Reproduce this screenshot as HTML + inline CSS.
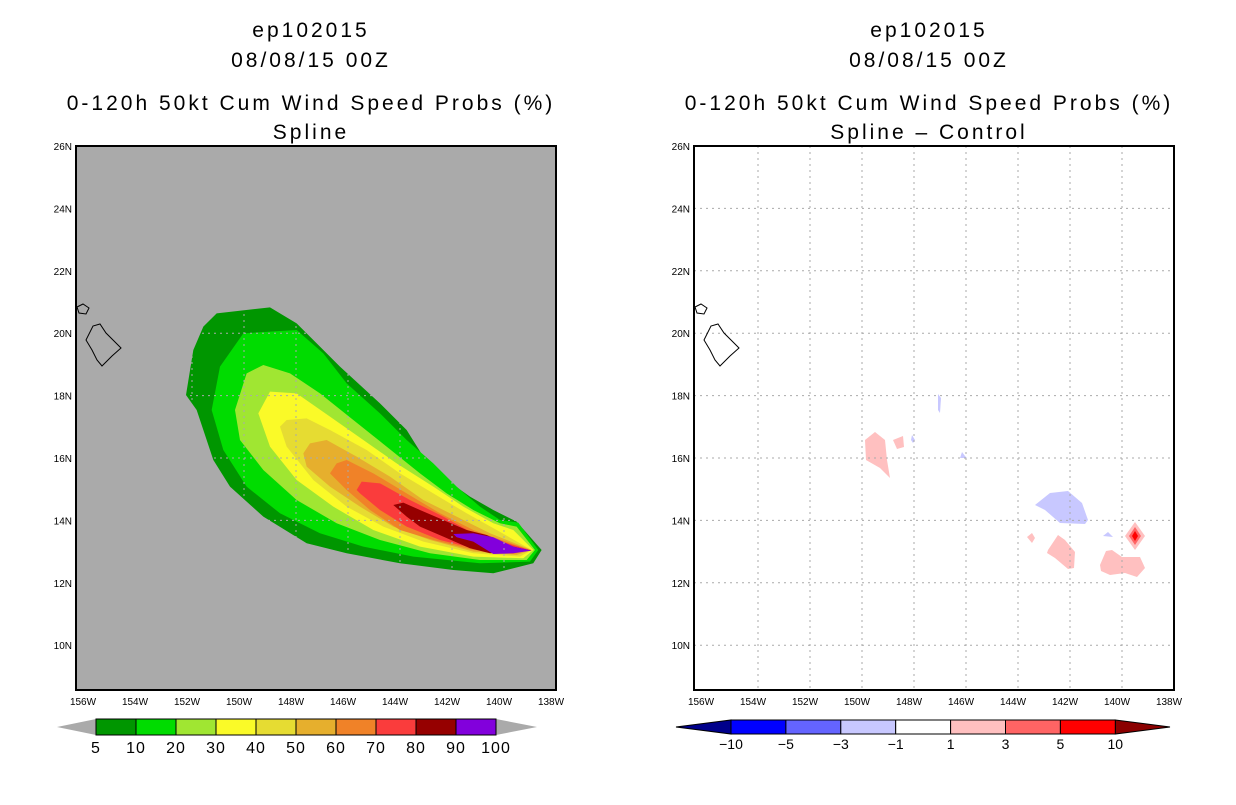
<!DOCTYPE html>
<html><head><meta charset="utf-8"><style>
body{margin:0;background:#fff;width:1236px;height:800px;overflow:hidden}
svg text{font-family:"Liberation Sans",sans-serif}
</style></head><body>
<svg width="1236" height="800" viewBox="0 0 1236 800">
<g font-size="21" letter-spacing="3" text-anchor="middle" fill="#000">
<text x="311" y="37">ep102015</text>
<text x="311" y="67">08/08/15 00Z</text>
<text x="311" y="110">0-120h 50kt Cum Wind Speed Probs (%)</text>
<text x="311" y="139">Spline</text>
</g>
<g font-size="21" letter-spacing="3" text-anchor="middle" fill="#000">
<text x="929" y="37">ep102015</text>
<text x="929" y="67">08/08/15 00Z</text>
<text x="929" y="110">0-120h 50kt Cum Wind Speed Probs (%)</text>
<text x="929" y="139">Spline – Control</text>
</g>
<rect x="76" y="146" width="480" height="544" fill="#aaaaaa"/>
<rect x="694" y="146" width="480" height="544" fill="#fff"/>
<g id="lc" transform="translate(180,300) scale(0.3333)"></g>
<g id="rc"></g>
<g id="grid"></g>
<g id="coast" fill="none" stroke="#000" stroke-width="1"></g>
<rect x="76" y="146" width="480" height="544" fill="none" stroke="#000" stroke-width="2"/>
<rect x="694" y="146" width="480" height="544" fill="none" stroke="#000" stroke-width="2"/>
<g id="axes" font-size="10" fill="#000"></g>
<g id="cb"></g>
</svg>
<script>
const NS="http://www.w3.org/2000/svg";
function mk(tag,attrs,parent){const e=document.createElementNS(NS,tag);for(const k in attrs)e.setAttribute(k,attrs[k]);parent.appendChild(e);return e;}
const lonTicks=[156,154,152,150,148,146,144,142,140,138];
const latTicks=[26,24,22,20,18,16,14,12,10];
const probLevels=["5","10","20","30","40","50","60","70","80","90","100"];
const probColors=["#009600","#00dc00","#a0e632","#fafa28","#e6dc32","#e6af2d","#f08228","#fa3c3c","#960000","#8200dc"];
const diffLevels=["-10","-5","-3","-1","1","3","5","10"];
const diffColors=["#0000ff","#6464ff","#c8c8ff","#ffffff","#ffc0c0","#ff6464","#ff0000"];
function xs(lon,off){return off+556-(lon-138)*26;}
function ys(lat){return 146+(26-lat)*31.2;}
const polys=[
"110,40 270,22 350,70 420,140 480,200 600,310 680,390 730,470 800,540 870,590 940,630 1010,665 1085,750 1060,790 940,820 820,810 660,790 500,760 380,730 250,650 150,560 100,480 50,330 18,285 40,150 70,80",
"190,100 350,90 430,160 500,250 600,340 680,420 760,490 830,560 900,620 960,660 1015,668 1075,750 1050,785 900,790 700,770 550,740 420,700 300,640 200,560 130,450 95,330 120,200",
"200,220 250,195 330,220 420,280 520,360 620,440 720,520 800,580 880,630 960,670 1010,680 1065,750 1040,780 900,780 750,760 600,720 470,670 350,600 250,510 180,420 165,330",
"270,275 350,280 450,350 550,420 650,490 760,560 850,620 940,670 1000,690 1060,750 1030,775 880,770 720,740 580,690 460,620 350,540 270,440 235,340",
"320,360 380,355 450,390 560,450 660,520 760,580 860,640 950,690 1055,750 1020,770 880,760 730,725 610,680 500,620 400,540 320,440 300,380",
"390,430 440,420 530,470 630,530 730,600 830,650 930,700 1055,750 1010,765 880,755 750,720 640,680 540,620 450,560 380,500 370,460",
"470,490 500,480 580,520 680,580 780,640 880,690 1050,750 1000,762 880,750 760,720 660,690 570,630 500,570 450,520",
"545,545 600,550 690,600 790,650 880,700 1050,750 990,760 880,745 780,720 680,680 600,630 540,580 530,570",
"640,615 670,608 720,630 790,660 860,690 920,705 1000,740 1055,752 1000,755 930,760 870,745 790,710 720,680 680,650",
"820,702 880,700 940,712 1000,740 1055,752 1000,760 940,762 880,725 830,712"];
const lc=document.getElementById('lc');
polys.forEach((p,i)=>{const e=mk('polygon',{points:p,fill:probColors[i]},lc);

});
const rc=document.getElementById('rc');
const rpolys=[
["1035,505 1050,493 1068,491 1082,503 1088,520 1085,524 1060,523 1045,510","#c8c8ff"],
["1103,536 1108,532 1113,537","#c8c8ff"],
["938,394 941,398 940,413 938,410","#c8c8ff"],
["912,435 915,440 913,443 911,440","#c8c8ff"],
["962,452 965,456 967,458 960,458","#c8c8ff"],
["1027,537 1032,533 1035,538 1032,543","#ffc0c0"],
["1048,550 1058,535 1065,540 1075,552 1074,568 1068,569 1055,558 1047,553","#ffc0c0"],
["1100,565 1106,551 1112,550 1122,557 1140,557 1145,568 1137,577 1125,573 1110,575 1101,571","#ffc0c0"],
["865,440 875,432 885,440 887,460 890,478 880,468 866,460","#ffc0c0"],
["893,440 903,436 904,447 897,449","#ffc0c0"],
["1125,536 1135,522 1145,536 1135,550","#ffc0c0"],
["1129,536 1135,527 1141,536 1135,545","#ff6464"],
["1132,536 1135,531 1138,536 1135,541","#ff0000"]];
rpolys.forEach((p,i)=>{const e=mk('polygon',{points:p[0],fill:p[1]},rc);

});
const grid=document.getElementById('grid');
[0,618].forEach(off=>{
 const col="#aaaaaa";
 lonTicks.slice(1,-1).forEach(l=>{const e=mk('line',{x1:xs(l,off),x2:xs(l,off),y1:146,y2:690,stroke:col,'stroke-dasharray':'2,4'},grid);
 });
 latTicks.slice(1).forEach(l=>{const e=mk('line',{x1:76+off,x2:556+off,y1:ys(l),y2:ys(l),stroke:col,'stroke-dasharray':'2,4'},grid);
 });
});
const coast=document.getElementById('coast');
[0,618].forEach(off=>{
 const a=mk('polygon',{points:[[86,340],[93,326],[100,324],[106,333],[113,340],[121,348],[112,356],[102,366],[97,360],[92,350]].map(p=>(p[0]+off)+','+p[1]).join(' ')},coast);
 
 const b=mk('polygon',{points:[[77,307],[83,304],[89,308],[86,314],[79,313]].map(p=>(p[0]+off)+','+p[1]).join(' ')},coast);
 
});
const axes=document.getElementById('axes');
[0,618].forEach(off=>{
 lonTicks.forEach(l=>{const t=mk('text',{x:xs(l,off)-5,y:705,'text-anchor':'middle'},axes);t.textContent=l+'W';
 });
 latTicks.forEach(l=>{const t=mk('text',{x:72+off,y:ys(l)+4,'text-anchor':'end'},axes);t.textContent=l+'N';
 });
});
const cb=document.getElementById('cb');
(function(){
 const x0=96,w=40,y0=719,h=16;
 let e=mk('polygon',{points:`57,727 ${x0},${y0} ${x0},${y0+h}`,fill:'#aaaaaa'},cb);
 const xe=x0+w*probColors.length;
 e=mk('polygon',{points:`${xe},${y0} 537,727 ${xe},${y0+h}`,fill:'#aaaaaa'},cb);
 probColors.forEach((c,i)=>{const r=mk('rect',{x:x0+i*w,y:y0,width:w,height:h,fill:c,stroke:'#000','stroke-width':1},cb);
 });
 probLevels.forEach((l,i)=>{const t=mk('text',{x:x0+i*w,y:753,'text-anchor':'middle','font-size':16,'letter-spacing':1},cb);t.textContent=l;
 });
})();
(function(){
 const x0=731,w=54.9,y0=720,h=14;
 let e=mk('polygon',{points:`676,727 ${x0},${y0} ${x0},${y0+h}`,fill:'#00008b',stroke:'#000'},cb);
 const xe=x0+w*diffColors.length;
 e=mk('polygon',{points:`${xe},${y0} 1170,727 ${xe},${y0+h}`,fill:'#8b0000',stroke:'#000'},cb);
 diffColors.forEach((c,i)=>{const r=mk('rect',{x:x0+i*w,y:y0,width:w,height:h,fill:c,stroke:'#000','stroke-width':1},cb);
 });
 diffLevels.forEach((l,i)=>{const t=mk('text',{x:x0+i*w,y:749,'text-anchor':'middle','font-size':14},cb);t.textContent=l.replace('-','−');
 });
})();
</script>
</body></html>
